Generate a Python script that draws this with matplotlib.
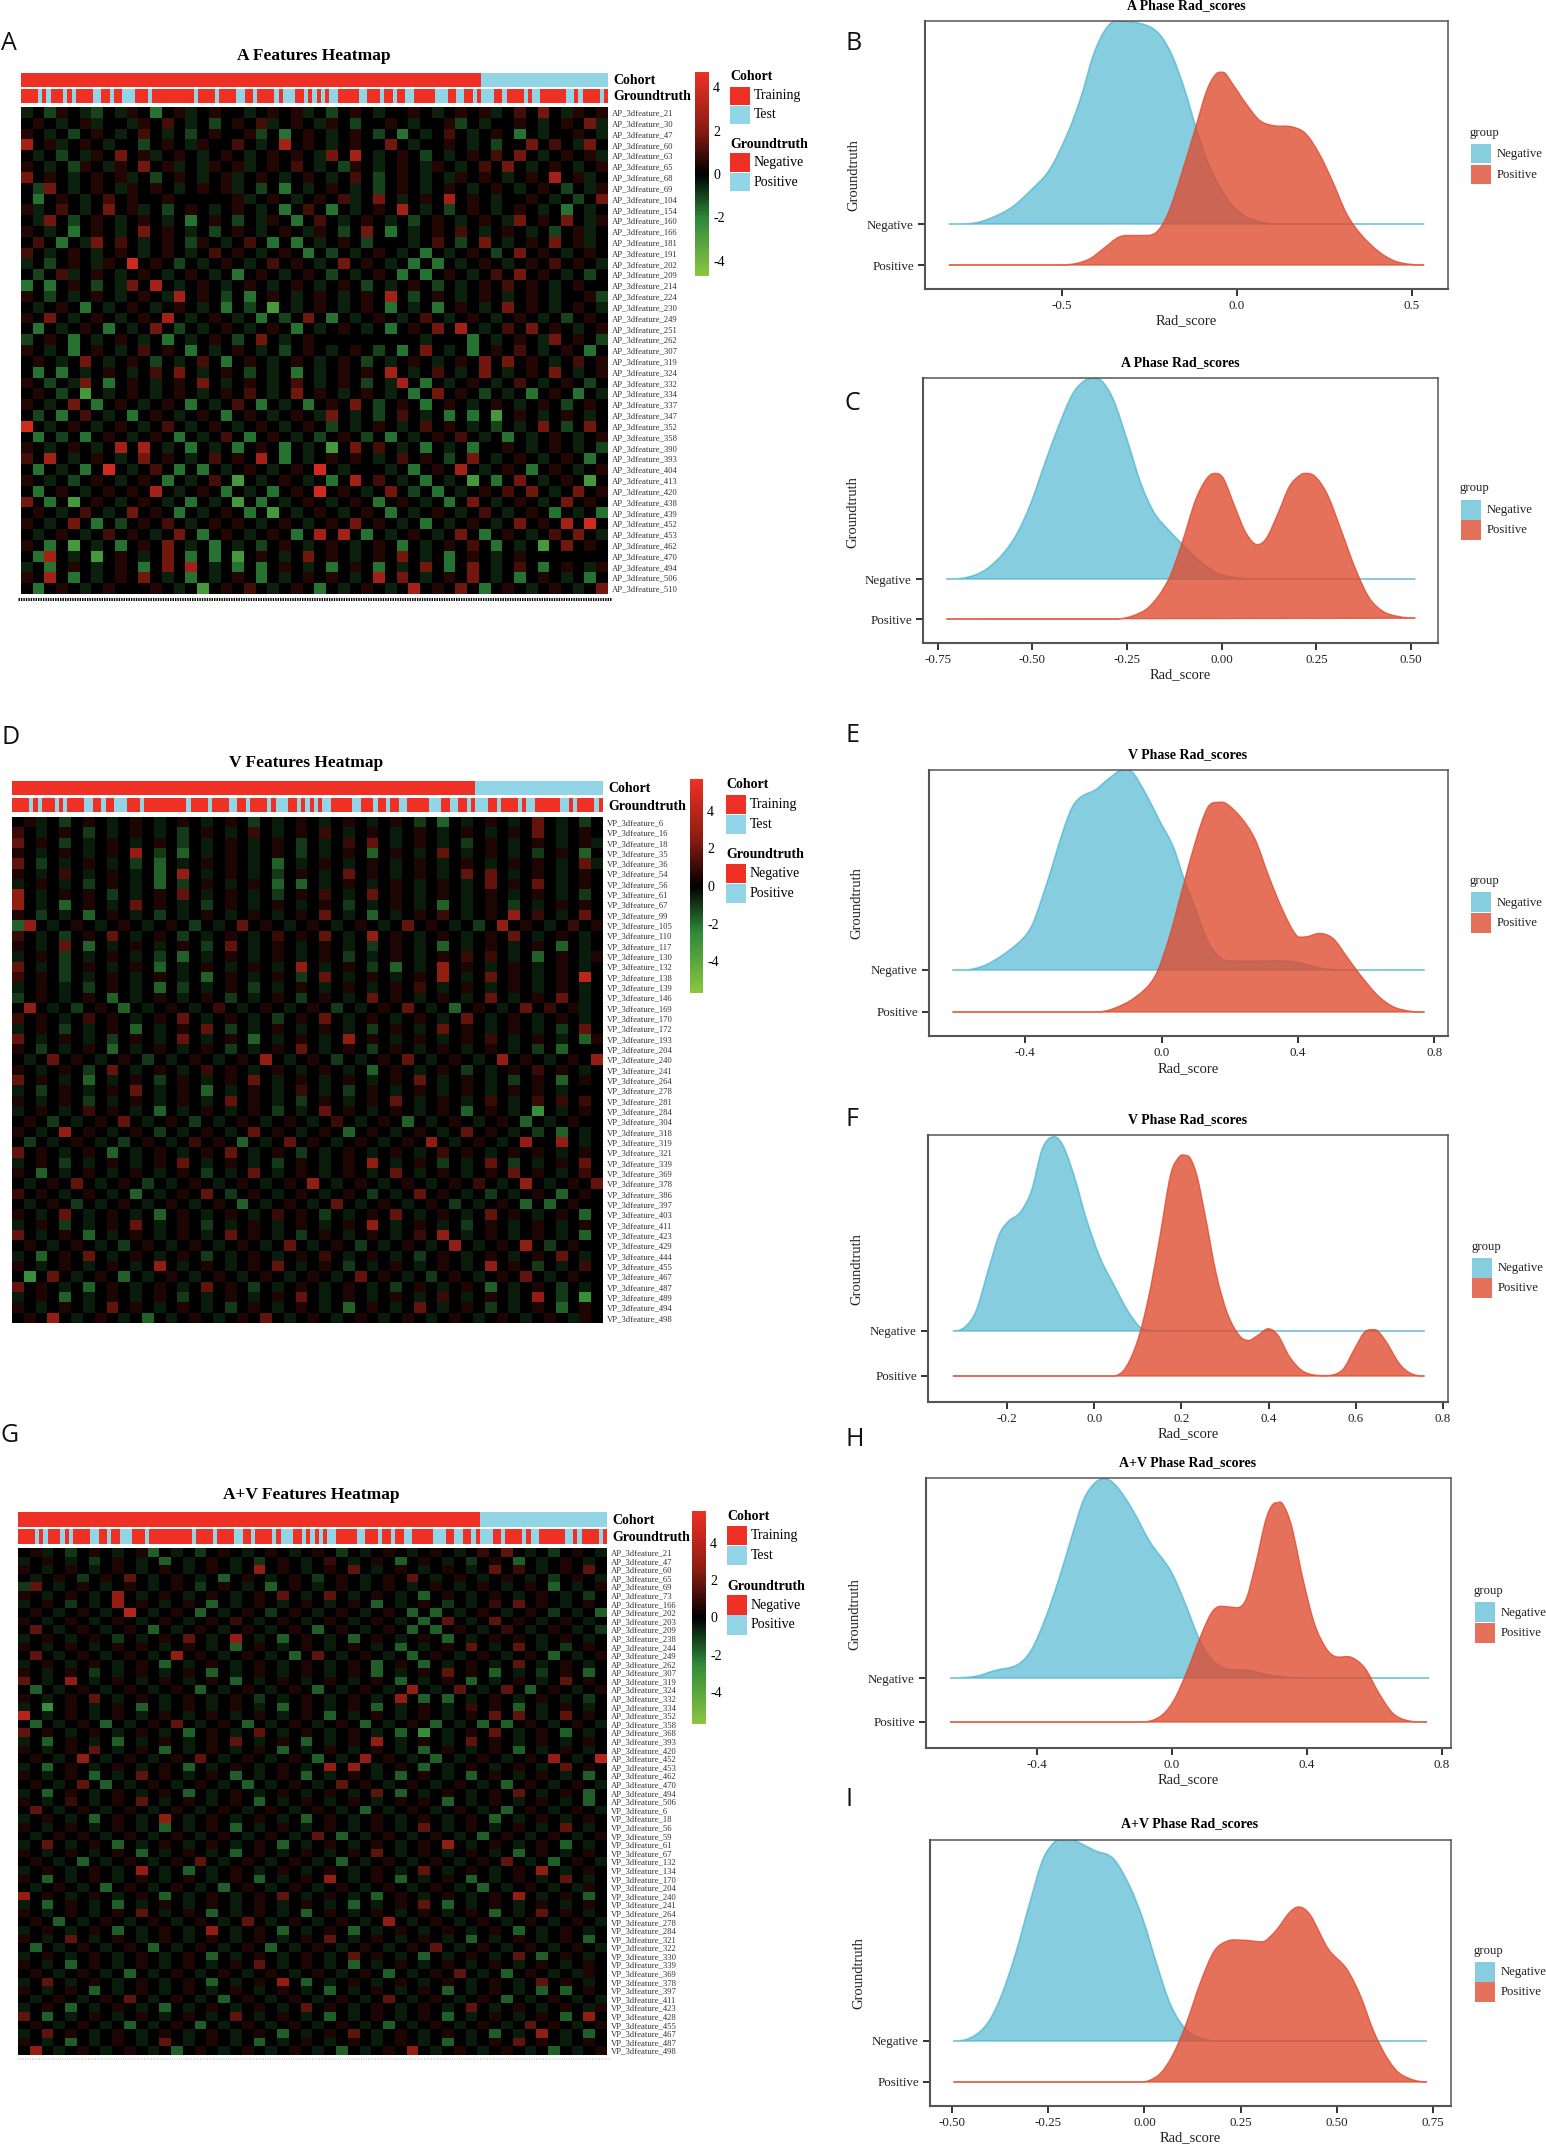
import numpy as np
import matplotlib
matplotlib.use('Agg')
import matplotlib.pyplot as plt
from matplotlib.colors import LinearSegmentedColormap, ListedColormap, Normalize
from matplotlib.cm import ScalarMappable
from matplotlib.path import Path
from matplotlib.patches import PathPatch, Rectangle

plt.rcParams['font.family'] = ['Liberation Serif', 'DejaVu Serif']

# ---------------- data: ridge densities (score, height) ----------------
B_neg_x = [-.822,-.744,-.692,-.640,-.587,-.535,-.483,-.444,-.411,-.379,-.346,-.300,-.248,-.215,-.183,-.150,-.117,-.085,-.052,-.013,.026,.078,.131,.535]
B_neg_h = [0,.03,.18,.42,.83,1.32,2.21,3.11,4.08,4.69,4.95,4.93,4.81,4.57,4.08,3.31,2.37,1.56,.95,.46,.18,.03,0,0]
B_pos_x = [-.822,-.509,-.457,-.418,-.379,-.339,-.313,-.261,-.228,-.196,-.157,-.117,-.085,-.059,-.039,-.013,.026,.065,.104,.157,.196,.235,.274,.313,.352,.405,.457,.535]
B_pos_h = [0,0,.04,.16,.41,.67,.72,.72,.81,1.26,2.24,3.37,4.27,4.66,4.70,4.43,3.94,3.53,3.40,3.37,3.21,2.72,2.03,1.26,.77,.33,.08,0]
C_neg_x = [-.727,-.673,-.624,-.576,-.540,-.504,-.467,-.431,-.395,-.365,-.341,-.316,-.286,-.250,-.214,-.178,-.141,-.099,-.057,-.008,.052,.112,.511]
C_neg_h = [0,.04,.23,.65,1.15,1.90,2.90,3.82,4.61,4.94,5.02,4.94,4.48,3.48,2.40,1.65,1.23,.82,.44,.13,.02,0,0]
C_pos_x = [-.727,-.286,-.238,-.190,-.141,-.105,-.069,-.039,-.018,.004,.034,.064,.094,.118,.149,.179,.209,.227,.251,.281,.318,.354,.390,.426,.463,.511]
C_pos_h = [0,0,.07,.32,.98,1.90,2.98,3.52,3.64,3.52,2.82,2.15,1.86,2.02,2.65,3.32,3.61,3.64,3.52,3.07,2.15,1.23,.52,.19,.07,.02]
E_neg_x = [-.613,-.556,-.503,-.422,-.382,-.349,-.315,-.288,-.261,-.235,-.194,-.154,-.114,-.087,-.047,-.007,.034,.067,.101,.134,.168,.194,.369,.422,.476,.570,.771]
E_neg_h = [0,.02,.17,.63,1.03,1.75,2.62,3.33,3.89,4.13,4.29,4.56,4.76,4.72,4.21,3.57,2.94,2.14,1.43,.71,.32,.22,.21,.14,.03,0,0]
E_pos_x = [-.613,-.194,-.141,-.074,-.020,.020,.060,.101,.134,.161,.188,.235,.275,.315,.355,.395,.422,.462,.503,.543,.583,.637,.690,.771]
E_pos_h = [0,0,.08,.37,.84,1.71,2.90,4.10,4.85,4.99,4.97,4.61,4.10,3.22,2.43,1.83,1.79,1.87,1.75,1.32,.88,.37,.09,0]
F_neg_x = [-.325,-.297,-.271,-.244,-.218,-.197,-.171,-.145,-.119,-.092,-.071,-.045,-.019,.013,.044,.076,.107,.139,.758]
F_neg_h = [0,.09,.46,1.34,2.15,2.44,2.63,3.10,4.06,4.32,4.10,3.40,2.51,1.63,1.04,.46,.07,.01,0]
F_pos_x = [-.325,.023,.065,.097,.123,.149,.175,.196,.212,.233,.254,.280,.306,.333,.354,.375,.399,.422,.448,.480,.527,.569,.600,.621,.644,.668,.700,.726,.758]
F_pos_h = [0,0,.10,.72,1.68,3.01,4.47,4.88,4.90,4.54,3.59,2.26,1.38,.90,.79,.90,1.05,.90,.43,.10,.01,.13,.65,.98,1.03,.79,.28,.06,0]
H_neg_x = [-.659,-.581,-.526,-.459,-.418,-.377,-.336,-.296,-.262,-.228,-.201,-.167,-.119,-.065,-.004,.037,.084,.125,.166,.220,.288,.355,.763]
H_neg_h = [0,.04,.17,.30,.63,1.33,2.24,3.25,4.06,4.44,4.53,4.38,3.85,3.09,2.44,1.74,.83,.37,.20,.18,.07,.01,0]
H_pos_x = [-.659,-.092,-.038,.003,.043,.084,.118,.145,.193,.220,.247,.281,.308,.328,.355,.389,.423,.457,.484,.532,.573,.613,.654,.695,.756]
H_pos_h = [0,0,.11,.46,1.12,1.93,2.49,2.63,2.60,2.79,3.55,4.66,4.98,4.96,4.45,3.24,2.23,1.68,1.49,1.47,1.22,.67,.21,.04,0]
I_neg_x = [-.496,-.449,-.407,-.372,-.336,-.300,-.265,-.235,-.205,-.170,-.128,-.081,-.039,-.004,.032,.068,.109,.157,.204,.733]
I_neg_h = [0,.09,.44,1.10,2.09,3.30,4.40,4.84,4.98,4.84,4.64,4.45,3.79,2.97,1.87,.88,.27,.04,0,0]
I_pos_x = [-.496,-.010,.038,.074,.109,.145,.181,.216,.252,.305,.341,.376,.400,.430,.477,.525,.561,.596,.632,.667,.733]
I_pos_h = [0,0,.18,.67,1.44,2.42,3.19,3.44,3.46,3.42,3.69,4.13,4.27,4.08,3.25,2.76,2.10,1.22,.56,.18,0]

B_ticks = [-0.5, 0.0, 0.5];  B_ticklabels = ['-0.5', '0.0', '0.5']
C_ticks = [-.75, -.5, -.25, 0, .25, .5];  C_ticklabels = ['-0.75', '-0.50', '-0.25', '0.00', '0.25', '0.50']
E_ticks = [-.4, 0, .4, .8];  E_ticklabels = ['-0.4', '0.0', '0.4', '0.8']
F_ticks = [-.2, 0, .2, .4, .6, .8];  F_ticklabels = ['-0.2', '0.0', '0.2', '0.4', '0.6', '0.8']
H_ticks = E_ticks;  H_ticklabels = E_ticklabels
I_ticks = [-.5, -.25, 0, .25, .5, .75];  I_ticklabels = ['-0.50', '-0.25', '0.00', '0.25', '0.50', '0.75']

# ---------------- data: heatmap annotation tracks ----------------
# alternating run lengths, starting with Negative (red), then Positive (blue)
groundtruth_runs = [4,1,1,1,3,1,1,1,4,2,2,1,2,3,3,1,10,1,4,1,4,2,2,1,4,1,1,3,2,1,1,1,1,1,1,2,5,2,3,1,2,1,2,2,5,3,2,2,2,1,1,3,2,1,4,1,1,2,6,2,1,1,4,1,1]
n_training, n_test = 109, 30

A_features = [21,30,47,60,63,65,68,69,104,154,160,166,181,191,202,209,214,224,230,249,251,262,307,319,324,332,334,337,347,352,358,390,393,404,413,420,438,439,452,453,462,470,494,506,510]
V_features = [6,16,18,35,36,54,56,61,67,99,105,110,117,130,132,138,139,146,169,170,172,193,204,240,241,264,278,281,284,304,318,319,321,339,369,378,386,397,403,411,423,429,444,455,467,487,489,494,498]
AV_a_features = [21,47,60,65,69,73,166,202,203,209,238,244,249,262,307,319,324,332,334,352,358,368,393,420,452,453,462,470,494,506]
AV_v_features = [6,18,56,59,61,67,132,134,170,204,240,241,264,278,284,321,322,330,339,369,378,397,411,423,428,455,467,487,498]

# coarse cell estimates, 50 columns; . = 0, 1-5 red levels, a-d green levels
CODES = {'.':0,'1':.6,'2':1.2,'3':2.0,'4':3.2,'5':4.6,'a':-.6,'b':-1.2,'c':-2.0,'d':-3.2}
A_rows = [
 "a.b1.ab.a1.c.1a.1..a.1.1a.b.1.a..1.a.1.1a.2.3.a1.1",
 ".1.a.1a..a1.2.a.b.1.2a.1.a1.b..1.a..1b.a..1.a.1.3a",
 "1.a.b.1.a.2.a.b.1..1b.c.1.a.1.b.c.a.2.a.1.c.a..1.a",
 "4.1a.1.a..b.1.a1..2.a.4.1.a.1..3.a..1.a.b..3.2.a3.",
 ".a.b.a1.3.1a.1.a.1.a.1.1.a3.4.a.1.b.a.1.2.3.a.1.1a",
 "1.a.b1.a1.3.1a.a1.1a.1.2.a.b1.a.1.a1.a.2.3.a.1.a.1",
 "3.1.a.1.1a.b.1.a.1a.1.a.1.a.2.b.1.a.a1.1.a.1.4.1a.",
 ".b3.a.1.a1.1.a.1.1a.b.c.a.1.a.b.1.a.1.a.1.a.1.b.a1",
 ".c.1.a.2.1..1.....1a.1.a.1.2a.3.a.1.4.1.a..1.a.b.3",
 "1a.2.a.3.1a.b.1.a.1.a.c.2.c.a.1.4.a.b.1.a.1.a.c.a.",
 ".a3.b.1.a.1.a.c.1.b.a1.c.2.a.1.a.b.1.a.1.a3.1.3.a1",
 "1.a.c.1.a.3.1.a.b.1.a.1.a1.b.3.c.a.1.2.a.1.a.b.1a.",
 ".2.c.a3.2.a.1.b1.a.2.c.c.a.1.b...a.2.b.3.a.1.3.1a.",
 "2.a.1.a.1.a.1.a.2.1.a.1.c.b.a.1.a.c.a.1.b.3.1.a.1.",
 "a.b.1.a1.5.1.b.a.1.a.2.1.a.3.1.a.c.c.a.1.a.1.2.1.a",
 ".b.2a.1.a.1.a.1.a.c.1.a.1.b.a.1.c.c.1.a.2.3.1.a.b.",
 "c.c.1.b.a3.4.a.1.a.1.a.1.a.1.b.a.1.b.a.1.2.1.a.1..",
 "1.b.a.1.a.1.a4.1.b.c.1.a.1.a.1.4.b.1.a.1.a.1.a..1b",
 ".a.1.c.a.1.a.1.a.c.b.d.a.1.a.1.c.a.c.1.a.3.1.a.1.a",
 "1.3.a.1.a.1.4.a.1.a.c.b.3.c.a.1.a.2.a.1.a.1.a.b.1.",
 ".c.a.1.c.a.3.b.a.1.a.1.c.a.1.a.c.1.3.4.a.2.3.1.a.1",
 "b.1.c.a.1.a.c.a.1.b.3.a.1.........a...c.a.1.a3.1.b",
 "1.a.c.1.a.2.1.c.a.1.a.b.1.a.1.b.c.3.a.c.1.2.a.1.c.",
 ".1.a.3.a.1.b.a.2.c.1.a.1.a.1.b.a.1.a.1.3.3.1.a.2.1",
 ".c.c.a.1.a.2.3.a.1.b.a.c.a.1.1.4.a.2.a.3.a.1.3.a.1",
 "1.b.a3.c.1.a.1.3.a.1.a.2.a.1.b.a4.c.a.1.a.2.a.1.b.",
 ".1.b.d.a.1.a.1.a.1.2.a.3.1.a.1.a.c.3.1.b.a.c.1.c.a",
 "1.a.3.c.1.a.1.c.a.2.c.a.c.1.3.b.1.c.1.a.1.a.1.b.1.",
 ".b.c.2.a.c.1.a.1.c.1.a.1.a3.a.b.2.a.c.c.d.1.a.1.a.",
 "5.a.1.a.1.a.2.a.1.a.1.a.1.b.a.1.a.2.1.a.b.a.3.b.3.",
 ".c.b.c.1.a.1.c.a.2.c.1.a.b.1.b.c.a.1.2.a.c.a.1.a.1",
 "1.a.1.a.4.4.a.c.a.c.1.c.a.d.3.2.a.c.a.c..1.a.1.a.b",
 "2.4.a.1.a.3.1.a.2.1.4.c.a.1.1.a.2.1.b.3.a.1.a.1.c.",
 ".c.a.c.5.a.2.c.c.a.1.a.1.5.a...a.c.1.4.a.1.c.1.a.1",
 "1.a.b.1.a.1.c.a.2.d.a.1.a.c.4.2.a.c.a.d.c.3.a.1.d.",
 ".c.1.a.1.1.4.a.1.c.a.c.1.5.1.a.3.b.c.a.1.2.3.a.3.1",
 "3.c.d.1.a.1.a.c.a.d.c.a.1.a.1.c.1.a.c.3.a.1.a.3.1.",
 ".1.a.2.a.3.1.c.a.1.c.d.a.1.a.1.c.a.1.a.2.a.1.c.a.c",
 "1.a.3.c.b.1.2.a.1.1.a.1.a.1.3.1.a.c.a.1.a.3.1.4.5.",
 ".a.1.a.2.1.a.3.c.1.a.1.c.4.4.c.a.1.a.3.c.1.a.2.3.a",
 "1.c.d.a.c.1.3.a.c.a.b.1.a.1.a.1.c.a.1.2.c.a.d.3.1.",
 ".c4.a.d.1.a.3.c.c.d.1.a.3.1.a.1.3.a.c.1.a.1.......",
 "a.c.1.a.1.c.3.4.a.c.c.1.a.c.1.c.a.3.c.3.a.2.c.1.a1",
 "1.4.c.a.1.3.a.c.a.1.c.a.1.1.a.4.3.a.1.3.a.c.1.a.c.",
 ".c.1.a.1...1.a.d.1.2.a.1.c.a.1.a.4.1.3.c.1.a.1.a.3",
]
V_rows = [
 ".1a.b.1.a.1.a.1.a.1.b.a.1.a.1.a.1.b.c.a.1.a.3.a.b.",
 "2.a.1.b.a.1.a.b.1.a.2.a.1.2.a.1.a.1.a.1.a.1.3.a.1.",
 "3.1.b.a.1.a.1.b.a.1.a.1.b.a.2.3.a.1.a.b.1.a.1.a.1a",
 "1.a.1.a.1.4.b.c.a.1.a.1.b.a.1.c.1.a.3.a.1.a.b.1.c.",
 "3.b.a.1.a.b.c.a.1.1.a.c.a.1.a.1.a.1.a.1.a.1.1.a.3a",
 "1.a.2.a.1.a.c.4.a.1.a.b.1.a.3.1.a.1.a.3.3.a.1.a.1.",
 "a.1.a.b.1.a.c.b.1.a.1.c.c.a.1.a.1.a.1.a.3.1.3.a.1.",
 "4.a.1.1.b.a.1.3.a.1.a.b.1.2.a.3.1.a.1.a.1.a.1.a.b.",
 "4.a.c.1.a.3.1.a.b.1.a.1.a.1.b.a.1.a.c.a.1.b.a.1.1.",
 "1.b.a.c.1.a.b.a.1.a.1.a.1.3.a.c.a.1.2.a.1.4.2.a.3.",
 "c4.a.1.a.1.a.1.b.a.3.1.a.1.a.1.a.3.1.a.b.4.1.a.2.1",
 "2.a.b.1.3.a.1.b.a.1.a.2.1.3.a.4.1.a.1.a.1.3.a.1.a.",
 "1.a.3.c.a.1.a.1.b.3.a.1.a.1.a.b.1.a.c.a.1.a.1.c.a.",
 "a.1.b.a.1.a.b.c.a.1.a.1.a.1.b.a.1.a.1.2.2.a.c.1.a1",
 "3.a.b.1.a.1.c.a.1.a.1.a.4.a.1.b.c.a.4.1.a.1.a.1.a.",
 "2.1.b.a.1.a.1.a.c.1.a.1.b.3.a.1.a.1.4.a.3.1.a.1.5.",
 "a.1.a.b.1.a.c.b.a.1.b.a.1.a.1.a.1.2.a.1.a.1.a.1.a.",
 "b.1.a.1.c.a.1.a.1.b.a.1.b.1.a.3.1.a.1.a.3.a.1.3.a.",
 ".4.a.b.1.c.a.1.a.2.a.1.a.1.b.a.1.3.a.c.1.a.3.2.1a.",
 "2.1.a.2.1.a.1.3.a.1.a.b.1.3.a.1.a.1.a.3.a.1.a.1.a.",
 "a.1.b.a.1.c.a.1.3.b.a.1.a.1.a.b.1.a.3.1.a.1.a.b.3.",
 "3.a.1.a.b.1.a.3.a.1.c.a.1.a.4.1.a.1.a.1.2.a.1.a.c1",
 "1.b.a.1.c.a.1.a.1.b.a.1.3.a.1.b.1.a.1.a.1.a.b.c...",
 ".a.3.1.a.1.b.a.1.a.1.4.a.1.b.a.1.3.a.1.a.4.1.a.1.4",
 "1.a.1.b.3.a.1.a.2.1.a.1.a.1.a.c.1.a.1.b.a.1.2.1.a.",
 "3.1.a.c.a.1.b.1.a.1.3.a.1.a.1.a.1.3.a.1.a.b.1.c.1.",
 "a.b.1.a.1.3.a.1.c.a.1.a.2.a.b.1.a.1.a.1.a.1.1.a...",
 "1.a.1.b.a.1.a.1.a.3.1.a.b.1.a.1.3.a.1.a.2.a.2.2.2.",
 "a.1.a.2.1.a.c.a.1.a.1.b.a.3.1.a.1.a.1.c.1.a.d.a.1.",
 ".1.b.a.1.3.a.1.b.a.1.a.1.a.2.a.1.c.a.1.a.1.c.a.1..",
 "1.a.4.1.a.1.b.a.1.a.3.1.a.1.c.1.a.1.a.3.1.a.b.c.a.",
 ".b.a.1.a.b.1.a.2.1.c.a.3.1.a.1.a.1.4.a.1.a.4..4.a.",
 "3.1.a.1.c.a.1.a.1.3.a.1.b.a.1.a.1.a.2.1.a.1.1.a.1.",
 "a.1.b.a.1.a.1.3.a.1.a.b.1.a.1.4.a.1.b.a.3.b.a.1.3.",
 "1.c.a.1.a.1.a.1.b.a.3.a.1.a.1.a.3.a.1.a.1.3.1.a.2.",
 ".a.1.3.a.1.b.a.1.a.1.a.1.4.a.1.a.1.a.1.2.a.4.a.1.3",
 "2.1.a.1.a.c.a.1.3.b.1.a.1.a.1.b.a.3.1.a.b.a.1.c.1.",
 ".a.1.b.a.1.a.1.a.1.c.a.1.a.3.a.1.a.1.b.a.1.c.c.1..",
 "1.a.3.a.1.a.c.1.a.1.a.2.1.b.a.1.3.a.1.a.3.1.a.1.c.",
 "a.1.b.a.1.3.a.1.b.a.1.a.1.a.1.4.a.1.a.b.1.a.1.a.1.",
 "3.a.1.c.a.1.a.1.a.3.1.a.b.1.a.1.a.2.4.a.1.a.1.a.c.",
 ".1.a.1.a.b.1.a.1.a.1.a.3.a.1.b.a.1.a.4.a.1.4.b.1..",
 "a.c.1.3.a.1.a.1.b.a.1.a.1.2.a.1.a.b.1.a.1.a.1.3.a.",
 "1.a.1.a.1.a.4.a.1.a.1.3.a.1.b.a.1.a.1.a.4.1.b.a.2.",
 ".d.3.a.1.c.a.1.a.1.a.1.a.1.a.3.1.a.b.1.a.1.3.a.1..",
 "3.1.a.c.1.a.1.a.3.1.b.a.1.a.1.a.b.1.a.1.c.a.1.b.a.",
 "a.1.c.a.1.a.1.b.a.1.a.1.3.a.1.a.1.a.2.a.1.a.4.b.d.",
 "1.a.1.a.3.1.a.1.a.b.1.a.1.a.c.1.a.3.a.1.b.a.1.c.1.",
 ".1.4.a.1.a.c.a.1.a.1.3.a.1.a.1.a.1.a.1.a.1.a.1.a1.",
]
AV_rows = [
 ".1a.b.1.a.1c.a.b.1.a.1.a.1.b.a.1.a.1.a.2.3.a.b.1.a",
 "a.1.a.b.1.a.c.a.1.a.b.1.a.2.a.1.c.1.a.b.1.c.a.1.a.",
 "1.a.1.a.1.a.1.a.1.a.4.1.a.1.3.a.1.a.1.a.3.2.a.1.3.",
 ".a.1.b.1.3.a.1.a.c.1.a.1.b.1.a.1.3.a.1.a.1.a.b.1.a",
 "b3.a.1.a.1.a.1.b.1.a.c.1.a.1.a.1.a.1.a.1.a.1.c.a.1",
 "1.a.1.a.4.a.1.a.1.a.1.3.a.3.a.1.a.c.1.a.1.a.1.a.b.",
 "a.1.b.a.4.1.a.1.c.a.1.a.1.a.1.c.a.1.b.a.2.3.1.a.1.",
 ".1.a.1.a.5.a.1.c.a.1.b.1.a.1.a.1.c.c.a.1.a.1.b.a.c",
 "1.a.1.a.1.a.1.a.1.2.a.1.a.1.a.1.a.c.3.a.3.1.a.1.a.",
 ".3.a.1.a.1.c.a.1.a.1.a.1.c.1.a.1.c.c.1.a.2.a.1.a.b",
 "a.1.a.1.b.a.1.3.a.4.a.c.1.a.c.1.a.1.c.a.1.1.a.1.a.",
 "1.a.1.a.1.1.a.1.a.c.1.a.1.a.1.a.c.a.1.3.a.3.a.b.1.",
 ".3.a.1.a.1.a.4.1.a.1.a.c.3.a.1.a.c.1.a.1.a.1.c.a.1",
 "a.1.a.1.a.1.c.a.1.a.1.a.1.a.1.c.1.c.a.1.a.3.a.1.a.",
 "1.a.1.b.a.1.a.1.c.a.1.a.1.a.1.c.a.1.3.1.c.a.b.1.c.",
 "3.a.4.a.1.a.1.a.1.c.a.1.a.1.a.1.c.a.1.c.a.1.a.3.1.",
 ".c.a.1.a.1.a.1.c.a.1.a.1.c.a.1.a.4.a.3.a.3.c.1.a.1",
 "1.a.1.3.a.1.a.1.a.1.b.a.1.a.1.a.4.c.c.a.1.a.1.a.b.",
 "a.d.1.a.1.c.a.1.a.1.a.c.1.a.1.c.a.1.a.2.1.c.a.1.a.",
 "5.a.1.a.1.a.1.a.1.a.1.a.1.c.a.1.a.1.a.1.3.3.a.3.1.",
 ".c.a.1.c.a.1.3.a.1.c.a.1.a.1.c.a.1.c.a.c.c.1.a.1.a",
 "3.1.a.1.a.1.a.c.1.a.3.a.1.a.1.a.c.d.a.1.3.a.1.c.a.",
 "a.c.1.a.c.a.1.a.1.3.a.1.c.a.1.4.a.1.a.3.1.a.1.a.1.",
 "1.a.1.3.a.1.c.a.1.a.1.c.a.1.a.1.a.c.1.a.1.c.a.1.a.",
 ".1.a.4.a.1.a.1.3.a.1.a.1.c.a.4.1.a.c.a.1.a.1.4.a.5",
 "a.c.1.a.1.a.1.c.a.1.a.1.a.4.4.a.1.c.a.1.a.1.a.3.1.",
 "1.a.1.c.a.3.1.a.1.c.a.1.c.a.1.a.c.1.a.c.1.a.1.a.c.",
 ".1.a.3.c.a.1.a.1.a.c.a.1.a.3.1.a.1.a.1.a.c.1.a.1.a",
 "a.c.1.a.1.a.1.c.a.1.a.1.a.1.a.3.c.a.1.a.1.3.a.1.c.",
 "1.a.2.a.1.3.a.1.a.1.c.a.1.a.1.a.1.1.c.a.1.a.1.a.c.",
 ".3.a.1.a.1.a.1.a.1.a.1.a.1.a.c.a.1.a.1.a.c.1.a.1.a",
 "a.1.a.c.1.a.4.a.1.a.1.a.c.1.a.1.a.1.a.1.c.a.1.a.1.",
 "1.a.1.a.1.a.c.a.1.c.a.1.a.1.a.1.a.3.a.1.a.1.a.3.a.",
 ".a.1.1.a.1.a.1.a.1.a.1.a.3.c.a.1.a.1.a.c.1.a.1.a.1",
 "a.3.a.1.c.a.1.a.1.a.1.c.a.1.a.1.a.1.4.a.1.a.1.c.a.",
 "1.a.1.a.1.c.a.1.a.c.1.a.1.a.1.3.a.1.a.1.a.c.1.a.1.",
 ".1.a.c.a.1.a.1.3.a.1.a.1.a.c.a.1.a.1.a.1.3.a.c.1.a",
 "a.1.a.1.a.4.a.c.a.1.a.1.a.1.a.1.a.3.a.1.a.1.4.a.1.",
 "1.c.a.1.a.1.a.1.a.1.c.a.1.4.a.1.c.a.1.c.a.1.a.3.a.",
 ".a.1.a.c.1.a.1.a.c.1.a.1.a.1.a.1.a.1.a.c.a.1.a.a1.",
 "4.1.a.1.a.1.c.a.1.a.1.3.a.1.a.c.1.a.1.a.1.4.a.1.c.",
 "a.c.1.a.c.a.1.a.1.a.1.a.1.a.c.a.1.3.c.a.1.a.1.a.1.",
 "1.a.1.a.1.3.a.1.c.a.1.a.c.1.a.1.a.1.a.1.c.a.3.1.a.",
 ".1.c.a.1.a.1.a.1.a.3.a.1.a.1.a.4.a.1.a.1.a.1.a.1.a",
 "a.1.a.1.c.a.1.a.4.a.1.c.a.1.c.a.1.a.1.a.1.c.a.1.a.",
 "1.a.3.a.1.a.1.a.1.a.1.a.1.3.a.1.a.1.a.c.a.1.a.1.c.",
 ".c.a.1.a.1.c.a.1.a.1.c.a.1.a.1.a.1.3.a.1.a.1.a.1.a",
 "a.1.a.1.a.1.a.1.c.a.1.a.1.a.3.1.a.c.a.1.a.3.c.1.a.",
 "1.a.c.1.a.1.a.1.a.1.3.a.1.a.c.a.1.a.1.a.1.a.1.a.1.",
 ".1.a.1.a.c.a.1.a.1.a.1.a.1.a.1.c.a.1.3.a.c.1.a.a1.",
 "a.3.a.1.a.1.a.1.c.a.1.4.c.a.1.a.1.a.1.a.1.a.3.1.a.",
 "1.a.1.c.a.1.a.1.a.1.a.1.a.c.a.1.a.1.c.a.1.a.c.c.1.",
 ".a.1.a.1.3.a.1.a.c.1.a.1.a.1.a.3.a.1.a.1.c.a.1.a.a",
 "a.1.c.a.1.a.c.a.1.a.1.a.3.1.a.1.a.1.a.3.a.1.a.1.a1",
 "3.c.a.1.a.1.a.1.a.3.a.1.a.c.a.1.a.1.c.a.1.a.1.c.4.",
 ".1.a.1.a.c.a.1.c.a.1.a.1.a.1.a.c.a.1.a.1.a.3.1.a.1",
 "a.3.1.a.1.a.1.a.1.a.1.c.a.1.3.a.1.a.1.a.c.a.4.a.c.",
 "1.a.c.a.1.a.3.a.1.a.c.a.1.a.1.a.1.a.c.a.1.3.1.a.1.",
 ".4.a.1.a.1.a.c.1.a.1.a.1.a.c.a.1.4.a.1.a.1.a.c.a.1",
]

# ---------------- layout ----------------
W, H = 1546, 2150
fig = plt.figure(figsize=(W/100, H/100), dpi=100, facecolor='white')
def ax_px(l, t, r, b):
    return fig.add_axes([l/W, 1-b/H, (r-l)/W, (b-t)/H])
ov = fig.add_axes([0, 0, 1, 1], zorder=10)
ov.set_xlim(0, W); ov.set_ylim(H, 0); ov.axis('off'); ov.patch.set_alpha(0)

hm_cmap = LinearSegmentedColormap.from_list('rgbk', [(0,'#8CC63F'),(.28,'#2F8A3A'),(.5,'#000000'),(.72,'#8A1C12'),(1,'#EE3124')])
ANN_RED, ANN_BLUE = '#EE3124', '#92D5E6'
ann_cmap = ListedColormap([ANN_RED, ANN_BLUE])

def heatmap(rows, feats, title, tx, ty, box, cohort_y, gt_y, cbar, vmax, leg, gain):
    l, t, r, b = box
    mat = np.array([[CODES[c] for c in row.ljust(50,'.')[:50]] for row in rows])
    mat = mat * (vmax / 4.7) * gain
    ax = ax_px(l, t, r, b)
    ax.imshow(mat, aspect='auto', cmap=hm_cmap, vmin=-vmax, vmax=vmax, interpolation='nearest')
    ax.set_xticks([])
    ax.yaxis.tick_right()
    ax.set_yticks(range(len(feats)))
    ax.set_yticklabels(feats, fontsize=6.2, color='#333333')
    ax.tick_params(axis='y', length=0, pad=3)
    for s in ax.spines.values():
        s.set_visible(False)
    # cohort track
    c = np.array([0]*n_training + [1]*n_test)[None, :]
    a1 = ax_px(l, cohort_y[0], r, cohort_y[1])
    a1.imshow(c, aspect='auto', cmap=ann_cmap, vmin=0, vmax=1, interpolation='nearest'); a1.axis('off')
    # groundtruth track
    g = np.repeat(np.arange(len(groundtruth_runs)) % 2, groundtruth_runs)[None, :]
    a2 = ax_px(l, gt_y[0], r, gt_y[1])
    a2.imshow(g, aspect='auto', cmap=ann_cmap, vmin=0, vmax=1, interpolation='nearest'); a2.axis('off')
    ov.text(tx, ty, title, ha='center', va='center', fontsize=12.5, fontweight='bold')
    ov.text(r+5, sum(cohort_y)/2+1, 'Cohort', va='center', fontsize=10, fontweight='bold')
    ov.text(r+5, sum(gt_y)/2+1, 'Groundtruth', va='center', fontsize=10, fontweight='bold')
    # colour bar
    cax = ax_px(*cbar)
    cb = fig.colorbar(ScalarMappable(Normalize(-vmax, vmax), hm_cmap), cax=cax)
    cb.outline.set_visible(False)
    cb.set_ticks([-4, -2, 0, 2, 4]); cb.set_ticklabels(['-4', '-2', '0', '2', '4'])
    cb.ax.tick_params(length=0, labelsize=10, pad=3)
    # legends
    x = leg['x']
    ov.text(x, leg['c'], 'Cohort', va='center', fontsize=10, fontweight='bold')
    ov.text(x, leg['g'], 'Groundtruth', va='center', fontsize=10, fontweight='bold')
    for (y0, y1), col, lab in zip(leg['boxes'], [ANN_RED, ANN_BLUE, ANN_RED, ANN_BLUE], ['Training', 'Test', 'Negative', 'Positive']):
        ov.add_patch(Rectangle((x, y0), 20, y1-y0, fc=col, ec='none'))
        ov.text(x+24, (y0+y1)/2, lab, va='center', fontsize=10)

heatmap(A_rows, [f'AP_3dfeature_{i}' for i in A_features], 'A Features Heatmap', 314, 56,
        (21, 107, 608, 594), (73, 87), (89, 103), (695, 72, 709, 276), 4.7,
        dict(x=730, c=77, g=144, boxes=[(87,105),(106,124),(153,172),(173,191)]), 0.85)
heatmap(V_rows, [f'VP_3dfeature_{i}' for i in V_features], 'V Features Heatmap', 306, 763,
        (12, 817, 603, 1323), (781, 795), (798, 812), (690, 779, 703, 993), 5.7,
        dict(x=726, c=785, g=854, boxes=[(795,814),(815,834),(864,883),(884,903)]), 0.72)
heatmap(AV_rows, [f'AP_3dfeature_{i}' for i in AV_a_features] + [f'VP_3dfeature_{i}' for i in AV_v_features],
        'A+V Features Heatmap', 311, 1495,
        (18, 1548, 607, 2055), (1512, 1527), (1529, 1544), (692, 1511, 706, 1724), 5.7,
        dict(x=727, c=1517, g=1586, boxes=[(1526,1545),(1546,1565),(1595,1615),(1615,1635)]), 0.7)
ov.plot([18, 611], [599, 599], color='black', lw=2.2, ls=(0, (0.45, 0.35)))
ov.plot([18, 611], [2059, 2059], color='#cccccc', lw=1.2, ls=(0, (0.6, 0.8)))

# ---------------- ridges ----------------
BLUE, RED = '#45B2CF', '#E0492D'
def smooth(xs, hs, base):
    xs = np.asarray(xs, float); ys = np.asarray(hs, float) + base
    n = len(xs); m = np.zeros(n)
    for i in range(1, n-1):
        if (ys[i]-ys[i-1])*(ys[i+1]-ys[i]) > 0:
            m[i] = (ys[i+1]-ys[i-1])/(xs[i+1]-xs[i-1])
    verts = [(xs[0], ys[0])]; codes = [Path.MOVETO]
    for i in range(n-1):
        d = (xs[i+1]-xs[i])/3
        verts += [(xs[i]+d, ys[i]+m[i]*d), (xs[i+1]-d, ys[i+1]-m[i+1]*d), (xs[i+1], ys[i+1])]
        codes += [Path.CURVE4]*3
    verts.append((xs[0], base)); codes.append(Path.LINETO)
    verts.append((xs[0], ys[0])); codes.append(Path.CLOSEPOLY)
    return Path(verts, codes)

def ridge(box, xlim, bases, negc, posc, ticks, ticklabels, title, title_xy, xlab_xy, ylab_xy, leg):
    l, t, r, b = box
    p_neg, p_pos = bases
    s = p_pos - p_neg
    ax = ax_px(l, t, r, b)
    ax.set_xlim(*xlim)
    ax.set_ylim(1-(b-p_pos)/s, 2+(p_neg-t)/s)
    ax.add_patch(PathPatch(smooth(negc[0], negc[1], 2), fc=BLUE, ec=BLUE, alpha=.65, lw=1.2))
    ax.add_patch(PathPatch(smooth(posc[0], posc[1], 1), fc=RED, ec=RED, alpha=.78, lw=1.0))
    ax.set_xticks(ticks); ax.set_xticklabels(ticklabels)
    ax.set_yticks([1, 2]); ax.set_yticklabels(['Positive', 'Negative'])
    ax.tick_params(axis='both', labelsize=9.4, length=5, width=1.4, color='#333333', pad=3, labelcolor='#222222')
    for k, sp in ax.spines.items():
        sp.set_color('#555555'); sp.set_linewidth(1.5 if k in ('left', 'bottom') else 1.1)
    ov.text(*title_xy, title, ha='center', va='center', fontsize=10, fontweight='bold')
    ov.text(*xlab_xy, 'Rad_score', ha='center', va='center', fontsize=10.5, color='#222222')
    ov.text(*ylab_xy, 'Groundtruth', ha='center', va='center', rotation=90, fontsize=10.5, color='#222222')
    x, yg, b1, b2, ln, lp = leg
    ov.text(x, yg, 'group', va='center', fontsize=9.2, color='#222222')
    ov.add_patch(Rectangle((x+1, b1[0]), 20, b1[1]-b1[0], fc=BLUE, ec='none', alpha=.65))
    ov.add_patch(Rectangle((x+1, b2[0]), 20, b2[1]-b2[0], fc=RED, ec='none', alpha=.78))
    ov.text(x+27, ln, 'Negative', va='center', fontsize=9.2, color='#222222')
    ov.text(x+27, lp, 'Positive', va='center', fontsize=9.2, color='#222222')

ridge((925,21,1448,289), (-.890,.603), (224,265), (B_neg_x,B_neg_h), (B_pos_x,B_pos_h), B_ticks, B_ticklabels,
      'A Phase Rad_scores', (1186,6), (1186,321), (854,175), (1470,133,(144,163),(165,184),154,175))
ridge((923,378,1438,643), (-.789,.571), (579,619), (C_neg_x,C_neg_h), (C_pos_x,C_pos_h), C_ticks, C_ticklabels,
      'A Phase Rad_scores', (1180,363), (1180,675), (853,512), (1460,488,(500,520),(520,540),510,530))
ridge((929,770,1448,1036), (-.682,.840), (970,1012), (E_neg_x,E_neg_h), (E_pos_x,E_pos_h), E_ticks, E_ticklabels,
      'V Phase Rad_scores', (1188,755), (1188,1069), (857,903), (1470,881,(892,912),(913,933),903,923))
ridge((928,1135,1448,1402), (-.382,.812), (1331,1376), (F_neg_x,F_neg_h), (F_pos_x,F_pos_h), F_ticks, F_ticklabels,
      'V Phase Rad_scores', (1188,1120), (1188,1434), (857,1269), (1471,1247,(1258,1278),(1278,1298),1268,1288))
ridge((926,1478,1451,1748), (-.730,.828), (1678,1722), (H_neg_x,H_neg_h), (H_pos_x,H_pos_h), H_ticks, H_ticklabels,
      'A+V Phase Rad_scores', (1188,1463), (1188,1780), (855,1614), (1474,1591,(1602,1622),(1623,1643),1613,1633))
ridge((930,1840,1451,2106), (-.557,.796), (2041,2082), (I_neg_x,I_neg_h), (I_pos_x,I_pos_h), I_ticks, I_ticklabels,
      'A+V Phase Rad_scores', (1190,1824), (1190,2138), (859,1973), (1474,1951,(1962,1982),(1982,2002),1972,1992))

# ---------------- panel letters ----------------
panel_letters = ['A','B','C','D','E','F','G','H','I']
letter_xy = [(1,44),(845,43),(845,403),(1,737),(845,736),(845,1119),(1,1436),(845,1439),(845,1799)]
for ch, xy in zip(panel_letters, letter_xy):
    ov.text(xy[0], xy[1], ch, fontsize=18, family='Open Sans', va='center', color='#111111')

fig.savefig('out.png', dpi=100, facecolor='white')
